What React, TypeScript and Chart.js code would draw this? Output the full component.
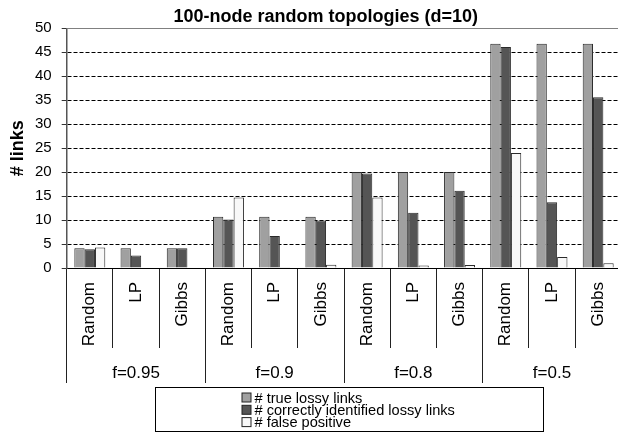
import React, { useEffect, useRef } from "react";
import { Chart, registerables } from "chart.js";

Chart.register(...registerables);

// ---- data ----
const methods = ["Random", "LP", "Gibbs", "Random", "LP", "Gibbs", "Random", "LP", "Gibbs", "Random", "LP", "Gibbs"];
const groups = ["f=0.95", "f=0.9", "f=0.8", "f=0.5"];
const trueLossy = [4.1, 4.1, 4.1, 10.7, 10.7, 10.7, 20, 20, 20, 46.8, 46.8, 46.8];
const correctlyIdentified = [3.9, 2.6, 4.1, 10.1, 6.7, 9.9, 19.7, 11.5, 16.1, 46.1, 13.7, 35.6];
const falsePositive = [4.3, 0, 0, 14.7, 0.15, 0.7, 14.7, 0.5, 0.6, 24, 2.3, 1.0];
const seriesNames = ["# true lossy links", "# correctly identified lossy links", "# false positive"];
const yTicks = [0, 5, 10, 15, 20, 25, 30, 35, 40, 45, 50];

const FONT = "'Liberation Sans', Arial, Helvetica, sans-serif";

const framePlugin = {
  id: "frame",
  beforeDatasetsDraw(chart: any) {
    const { ctx, chartArea } = chart;
    ctx.save();
    ctx.strokeStyle = "#808080";
    ctx.lineWidth = 1;
    ctx.beginPath();
    ctx.moveTo(chartArea.left, Math.round(chartArea.top) + 0.5);
    ctx.lineTo(chartArea.right, Math.round(chartArea.top) + 0.5);
    ctx.stroke();
    ctx.restore();
  },
};

const boxLegendPlugin = {
  id: "boxLegend",
  afterDraw(chart: any) {
    const { ctx, chartArea } = chart;
    const items = chart.options.plugins.legend.labels.generateLabels(chart);
    const x0 = Math.round(chartArea.left + 88) + 0.5;
    const w = 388;
    const y0 = 387.5;
    const h = 44;
    ctx.save();
    ctx.fillStyle = "#ffffff";
    ctx.fillRect(x0, y0, w, h);
    ctx.strokeStyle = "#000";
    ctx.lineWidth = 1;
    ctx.strokeRect(x0, y0, w, h);
    ctx.font = `14.6px ${FONT}`;
    ctx.textBaseline = "middle";
    ctx.textAlign = "left";
    items.forEach((it: any, i: number) => {
      const cy = y0 + 10 + i * 12.3;
      const sx = x0 + 86.5;
      ctx.fillStyle = it.fillStyle;
      ctx.fillRect(sx, cy - 4.5, 9, 9);
      ctx.strokeStyle = "#222";
      ctx.strokeRect(sx, cy - 4.5, 9, 9);
      ctx.fillStyle = "#000";
      ctx.fillText(it.text, x0 + 99, cy + 1);
    });
    ctx.restore();
  },
};

export default function App() {
  const ref = useRef<HTMLCanvasElement>(null);

  useEffect(() => {
    if (!ref.current) return;
    const chart = new Chart(ref.current, {
      type: "bar",
      data: {
        labels: methods,
        datasets: [
          { label: seriesNames[0], data: trueLossy, backgroundColor: "#a0a0a0", borderColor: "#2a2a2a", borderWidth: 1, xAxisID: "x", yAxisID: "y" },
          { label: seriesNames[1], data: correctlyIdentified, backgroundColor: "#555555", borderColor: "#2a2a2a", borderWidth: 1, xAxisID: "x", yAxisID: "y" },
          { label: seriesNames[2], data: falsePositive, backgroundColor: "#f8f8f8", borderColor: "#2a2a2a", borderWidth: 1, xAxisID: "x", yAxisID: "y" },
        ],
      },
      options: {
        responsive: false,
        animation: false,
        events: [],
        layout: { padding: { left: 0, right: 8.7, top: 0, bottom: 49 } },
        datasets: { bar: { categoryPercentage: 0.67, barPercentage: 1.0 } },
        plugins: {
          legend: { display: false },
          tooltip: { enabled: false },
          title: {
            display: true,
            text: "100-node random topologies (d=10)",
            color: "#000",
            font: { family: FONT, size: 18, weight: "bold" },
            padding: { top: 5.9, bottom: 0.8 },
          },
        },
        scales: {
          x: {
            type: "category",
            position: "bottom",
            offset: true,
            grid: { display: true, drawOnChartArea: false, drawTicks: true, tickLength: 80, offset: true, color: "#222", tickColor: "#222", lineWidth: 1 },
            border: { display: true, color: "#000", width: 1 },
            ticks: {
              autoSkip: false,
              minRotation: 90,
              maxRotation: 90,
              padding: -66,
              color: "#000",
              font: { family: FONT, size: 17 },
            },
            afterFit: (s: any) => { s.height = 80; },
          },
          x2: {
            type: "category",
            position: "bottom",
            labels: groups,
            offset: true,
            grid: { display: true, drawOnChartArea: false, drawTicks: true, tickLength: 35, offset: true, color: "#222", tickColor: "#222", lineWidth: 1 },
            border: { display: false },
            ticks: { autoSkip: false, maxRotation: 0, minRotation: 0, padding: -20, color: "#000", font: { family: FONT, size: 17 } },
            afterFit: (s: any) => { s.height = 35; },
          },
          y: {
            type: "linear",
            position: "left",
            min: 0,
            max: 50,
            afterBuildTicks: (s: any) => { s.ticks = yTicks.map((v) => ({ value: v })); },
            grid: {
              display: true,
              drawTicks: true,
              tickLength: 5,
              color: (c: any) => (c.tick && (c.tick.value === 50 || c.tick.value === 0) ? "rgba(0,0,0,0)" : "#000"),
              tickColor: "#333",
              lineWidth: 1,
            },
            border: { display: true, color: "#555", width: 1.5, dash: [4, 2] },
            ticks: { padding: 10, color: "#000", font: { family: FONT, size: 15 } },
            title: {
              display: true,
              text: "# links",
              color: "#000",
              font: { family: FONT, size: 18, weight: "bold" },
              padding: { top: 7.2, bottom: 0 },
            },
            afterFit: (s: any) => { s.width = 66.7; },
          },
          yR: {
            type: "linear",
            position: "right",
            min: 0,
            max: 50,
            display: true,
            grid: { display: false, drawOnChartArea: false, drawTicks: false },
            border: { display: false },
            ticks: { display: false },
            afterFit: (s: any) => { s.width = 30; },
          },
        },
      },
      plugins: [framePlugin, boxLegendPlugin],
    } as any);
    return () => chart.destroy();
  }, []);

  return (
    <div style={{ position: "absolute", left: 0, top: 0, width: 618, height: 432, overflow: "hidden", background: "#fff" }}>
      <canvas ref={ref} width={660} height={432} style={{ width: 660, height: 432, display: "block" }} />
    </div>
  );
}
